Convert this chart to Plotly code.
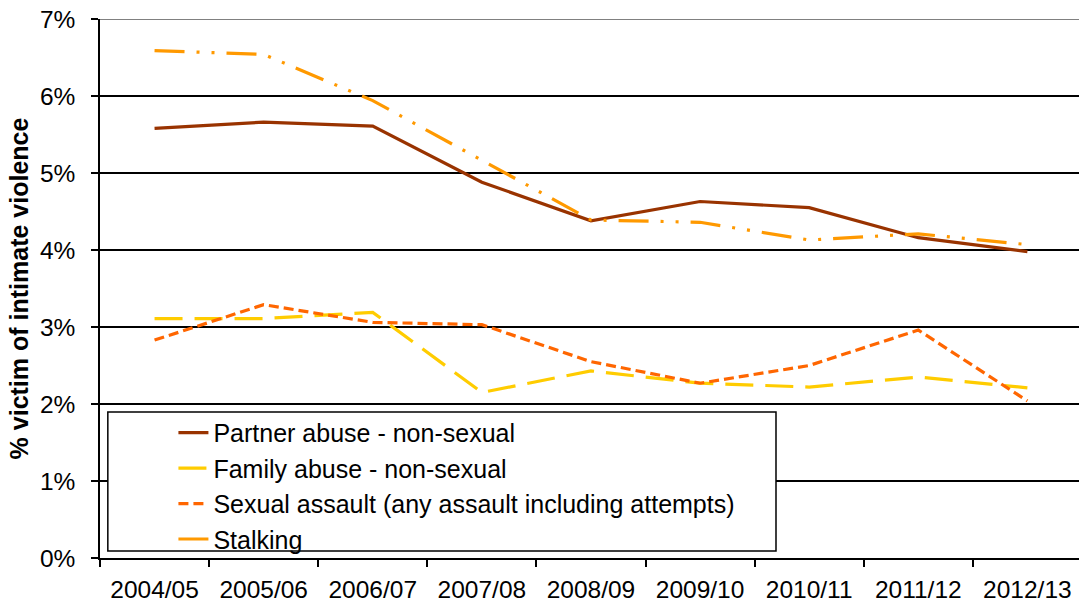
import plotly.graph_objects as go

years = ["2004/05", "2005/06", "2006/07", "2007/08", "2008/09",
         "2009/10", "2010/11", "2011/12", "2012/13"]
partner = [5.58, 5.66, 5.61, 4.88, 4.38, 4.63, 4.55, 4.16, 3.98]
family = [3.11, 3.11, 3.19, 2.15, 2.43, 2.27, 2.22, 2.35, 2.21]
sexual = [2.83, 3.29, 3.06, 3.03, 2.55, 2.27, 2.50, 2.96, 2.04]
stalking = [6.59, 6.54, 5.94, 5.16, 4.39, 4.36, 4.13, 4.21, 4.07]

names = ["Partner abuse - non-sexual", "Family abuse - non-sexual",
         "Sexual assault (any assault including attempts)", "Stalking"]
series = [partner, family, sexual, stalking]
colors = ["#993300", "#FFCC00", "#FF6600", "#FF9900"]
dashes = ["solid", "28px,12px", "10px,5px", "30px,12px,3px,12px,3px,12px"]

FONT = "Arial, Liberation Sans, sans-serif"

fig = go.Figure()
for n, s, c, d in zip(names, series, colors, dashes):
    fig.add_trace(go.Scatter(x=years, y=s, mode="lines", name=n,
                             line=dict(color=c, width=3.2, dash=d)))

fig.update_layout(
    width=1079, height=605,
    margin=dict(l=100, r=0, t=19, b=47),
    paper_bgcolor="white", plot_bgcolor="white",
    font=dict(family=FONT, size=24, color="black"),
    showlegend=True,
    legend=dict(x=0.075, y=0.275, xanchor="left", yanchor="top",
                bgcolor="rgba(0,0,0,0)", borderwidth=0,
                font=dict(family=FONT, size=25, color="black"),
                itemwidth=30, tracegroupgap=0),
    shapes=[
        dict(type="rect", xref="paper", yref="paper", x0=0.008, x1=0.6905,
             y0=0.013, y1=0.271, fillcolor="white",
             line=dict(color="black", width=1.5), layer="above"),
        dict(type="line", xref="paper", yref="y", x0=0, x1=1, y0=7, y1=7,
             line=dict(color="#808080", width=2), layer="above"),
    ],
)

fig.update_xaxes(
    type="category", categoryorder="array", categoryarray=years,
    range=[-0.5, 8.473], tickson="boundaries",
    ticks="outside", ticklen=7, tickwidth=1.5, tickcolor="black",
    showline=True, linecolor="black", linewidth=1.5,
    showgrid=False, ticklabelstandoff=9,
    tickfont=dict(family=FONT, size=24.5, color="black"),
)
fig.update_yaxes(
    range=[0, 7], dtick=1, ticksuffix="%",
    ticks="outside", ticklen=7, tickwidth=1.5, tickcolor="black",
    showline=True, linecolor="black", linewidth=1.5,
    showgrid=True, gridcolor="black", gridwidth=1.5,
    zeroline=False, ticklabelstandoff=11,
    tickfont=dict(family=FONT, size=24.5, color="black"),
    title=dict(text="<b>% victim of intimate violence</b>", standoff=4,
               font=dict(family=FONT, size=25, color="black")),
)

fig.write_html("out.html",
               config={"displayModeBar": False},
               post_script="document.body.style.margin='0';"
                           "document.body.style.overflow='hidden';")
